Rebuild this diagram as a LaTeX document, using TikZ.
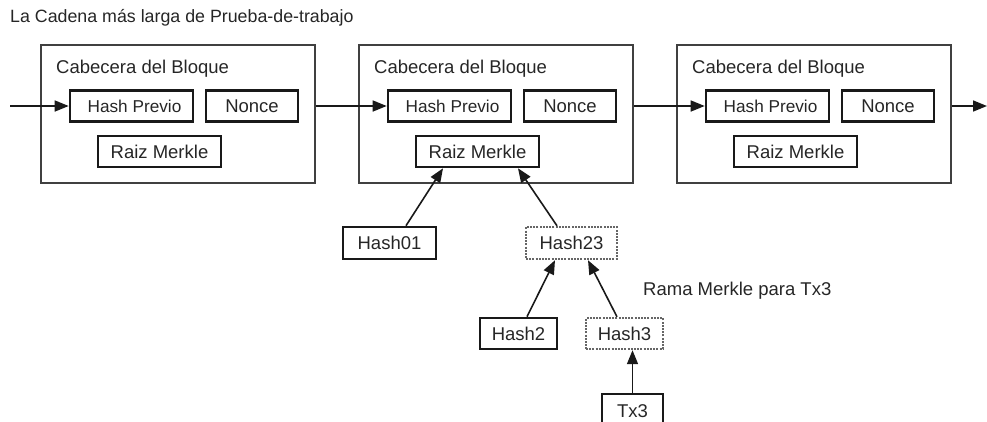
\documentclass[tikz,border=0pt]{standalone}
\usepackage{fontspec}
\setmainfont{Liberation Sans}
\usetikzlibrary{arrows.meta}
\begin{document}
\begin{tikzpicture}[x=1pt,y=-1pt,
  blk/.style={draw=black!75, line width=1.9pt, minimum width=274pt, minimum height=138pt, inner sep=0pt},
  ib/.style={draw=black!90, line width=2.6pt, minimum height=31pt, inner sep=0pt, text=black!85, font=\fontsize{18.5}{20}\selectfont},
  db/.style={ib, draw=black!60, line width=2.4pt, dash pattern=on 2pt off 1.2pt},
  lbl/.style={inner sep=0pt, text=black!85, font=\fontsize{18.5}{20}\selectfont},
  arr/.style={line width=1.6pt, draw=black!90, -{Triangle[length=14pt,width=11pt]}}]
\useasboundingbox (0,0) rectangle (987,421);
\clip (0,0) rectangle (987,421);
\node[lbl, anchor=west, font=\fontsize{17.8}{20}\selectfont] (title) at (10,18) {La Cadena más larga de Prueba-de-trabajo};
\foreach \i/\L in {1/41,2/359,3/677}{
  \node[blk] (b\i) at (\L+137,114) {};
  \node[lbl, anchor=west] (cab\i) at (\L+15,69) {Cabecera del Bloque};
  \node[ib, minimum width=123pt, font=\fontsize{17.2}{19}\selectfont] (hp\i) at (\L+90.5,106) {\hspace*{6pt}Hash Previo};
  \node[ib, minimum width=92pt] (n\i) at (\L+211,106) {Nonce};
  \node[ib, minimum width=123pt, minimum height=31pt] (rm\i) at (\L+118.5,151.5) {Raiz Merkle};
}
\coordinate (start) at (10,106);
\coordinate (end) at (987,106);
\draw[arr] (start) -- (hp1.west);
\draw[arr] (b1.east |- hp2.west) -- (hp2.west);
\draw[arr] (b2.east |- hp3.west) -- (hp3.west);
\draw[arr] (b3.east |- hp3.west) -- (end);

\node[ib, minimum width=93pt, minimum height=32pt] (h01) at (389.5,243) {Hash01};
\node[db, minimum width=91pt, minimum height=32pt] (h23) at (571.5,243) {Hash23};
\node[ib, minimum width=77pt, minimum height=31pt] (h2) at (518.5,333.5) {Hash2};
\node[db, minimum width=77pt, minimum height=31pt] (h3) at (624.5,333.5) {Hash3};
\node[ib, minimum width=61pt, minimum height=34pt] (tx3) at (632.5,411) {Tx3};
\node[lbl, anchor=west] (rama) at (643,291) {Rama Merkle para Tx3};

\draw[arr] ([xshift=16.5pt]h01.north) -- ([xshift=-34.5pt]rm2.south);
\draw[arr] ([xshift=-14.5pt]h23.north) -- ([xshift=40.5pt]rm2.south);
\draw[arr] ([xshift=8.5pt]h2.north) -- ([xshift=-16.5pt]h23.south);
\draw[arr] ([xshift=-7.5pt]h3.north) -- ([xshift=16.5pt]h23.south);
\draw[arr] (tx3.north) -- ([xshift=8pt]h3.south);
\end{tikzpicture}
\end{document}
